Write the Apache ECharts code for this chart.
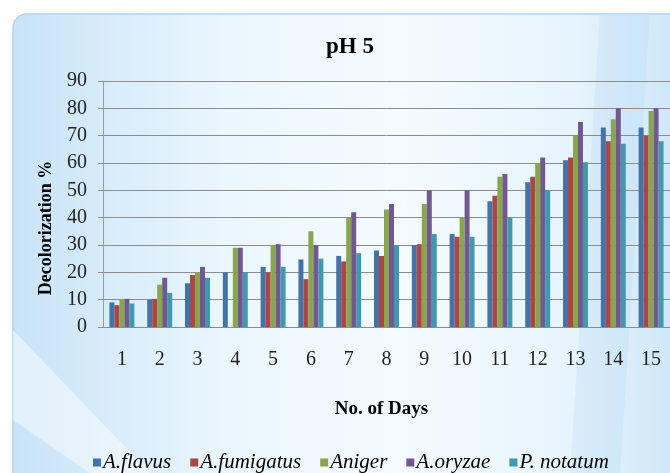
<!DOCTYPE html>
<html>
<head>
<meta charset="utf-8">
<script src="https://cdn.jsdelivr.net/npm/echarts@6/dist/echarts.min.js"></script>
<style>
html,body{margin:0;padding:0;background:#fff;}
#c{width:670px;height:473px;}
</style>
</head>
<body>
<div id="c"></div>
<script>
var days = ['1','2','3','4','5','6','7','8','9','10','11','12','13','14','15'];
var seriesNames = ['A.flavus','A.fumigatus','Aniger','A.oryzae','P. notatum'];
var aFlavus     = [9, 10, 16, 20, 22, 24.7, 26, 28, 30, 34, 46, 53, 61, 73, 73];
var aFumigatus  = [8, 10.3, 19, 0, 20, 17.5, 24, 26, 30.3, 33, 48, 55, 62, 68, 70];
var aNiger      = [10, 15.5, 20, 29, 30, 35, 40, 43, 45, 40, 55, 60, 70, 76, 79];
var aOryzae     = [10.3, 18, 22, 29, 30.3, 30, 42, 45, 50, 50, 56, 62, 75, 80, 80];
var pNotatum    = [8.6, 12.5, 18, 20, 22, 25, 27, 30, 34, 33, 40, 50, 60.3, 67, 68];
var yTicks = {min: 0, max: 90, interval: 10};
var colors = ['#4572A7','#AA4643','#89A54E','#71588F','#4198AF'];

var allData = [aFlavus, aFumigatus, aNiger, aOryzae, pNotatum];
var serif = '"Liberation Serif","DejaVu Serif",serif';

var chart = echarts.init(document.getElementById('c'));
var series = seriesNames.map(function(n, i){
  return {
    name: n, type: 'bar', data: allData[i],
    barGap: '0%', barCategoryGap: '34%',
    itemStyle: {color: colors[i]}
  };
});

chart.setOption({
  animation: false,
  color: colors,
  graphic: [
    {
      type: 'rect', z: -10, silent: true,
      shape: {x: 13, y: 14, width: 700, height: 500, r: 14},
      style: {
        fill: new echarts.graphic.LinearGradient(0, 0, 1, 0, [
          {offset: 0, color: '#c8e3f7'},
          {offset: 0.3, color: '#eaf6fe'},
          {offset: 0.55, color: '#f4fbff'},
          {offset: 0.8, color: '#e6f4fd'},
          {offset: 1, color: '#c6e2f7'}
        ]),
        stroke: '#b3d4ee', lineWidth: 1.5
      }
    },
    {
      type: 'polygon', z: -9, silent: true,
      shape: {points: [[13, 330], [13, 420], [90, 473], [150, 473]]},
      style: {fill: 'rgba(255,255,255,0.45)'}
    },
    {
      type: 'polygon', z: -9, silent: true,
      shape: {points: [[600, 14], [650, 14], [620, 473], [570, 473]]},
      style: {fill: 'rgba(190,222,246,0.35)'}
    }
  ],
  title: {
    text: 'pH 5',
    left: 345, top: 31, textAlign: 'center',
    textStyle: {fontFamily: serif, fontSize: 23, fontWeight: 'bold', color: '#000'}
  },
  legend: {
    data: seriesNames,
    left: 88, top: 447,
    itemWidth: 8, itemHeight: 8, itemGap: 19,
    icon: 'rect',
    textStyle: {fontFamily: serif, fontSize: 21, fontStyle: 'italic', color: '#000', padding: [0,0,0,-3]}
  },
  grid: {left: 103, top: 81, width: 571, height: 246, containLabel: false},
  xAxis: {
    type: 'category', data: days,
    name: 'No. of Days', nameLocation: 'middle', nameGap: 73,
    nameTextStyle: {fontFamily: serif, fontSize: 19, fontWeight: 'bold', color: '#000', padding: [0,0,0,-10]},
    axisLine: {lineStyle: {color: '#8c8c8c'}},
    axisTick: {show: false},
    axisLabel: {fontFamily: serif, fontSize: 20, color: '#222', margin: 23}
  },
  yAxis: {
    type: 'value', min: yTicks.min, max: yTicks.max, interval: yTicks.interval,
    name: 'Decolorization %', nameLocation: 'middle', nameGap: 48, nameRotate: 90,
    nameTextStyle: {fontFamily: serif, fontSize: 18, fontWeight: 'bold', color: '#000', padding: [0,48,0,0]},
    axisLine: {show: true, lineStyle: {color: '#9a9a9a'}},
    axisTick: {show: true, length: 5, lineStyle: {color: '#8c8c8c'}},
    axisLabel: {fontFamily: serif, fontSize: 20, color: '#222', margin: 16},
    splitLine: {lineStyle: {color: '#8c8c8c', width: 1}}
  },
  series: series
});
</script>
</body>
</html>
